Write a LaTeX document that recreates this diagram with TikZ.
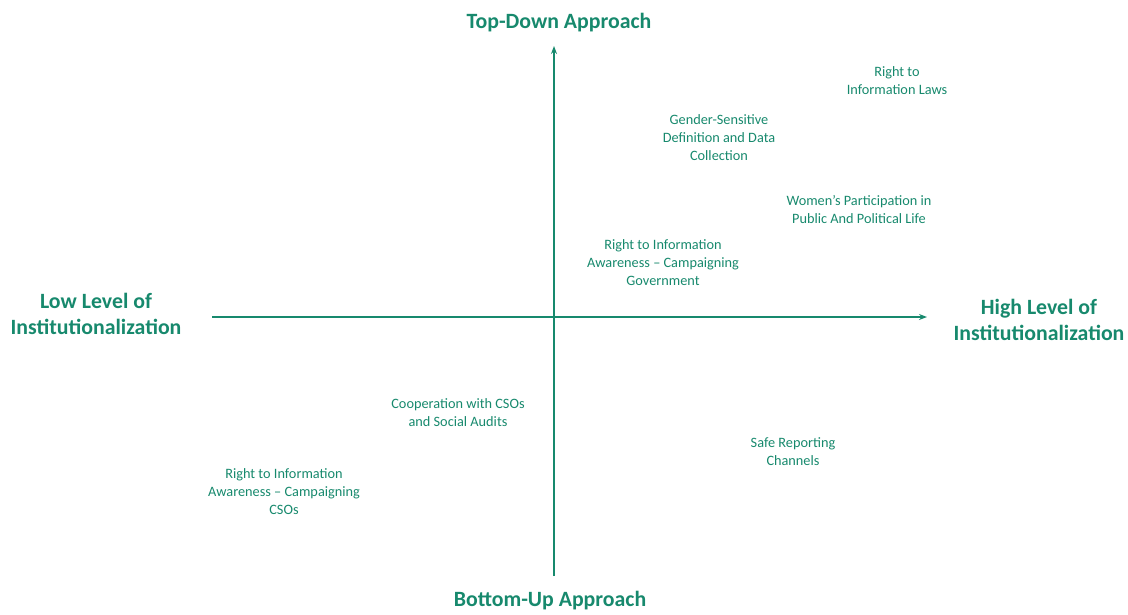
\documentclass[tikz,border=0pt]{standalone}
\usepackage{fontspec}
\setmainfont{Carlito}
\usetikzlibrary{arrows.meta}
\definecolor{teal1}{HTML}{17896D}
\tikzset{
  axis/.style={draw=teal1, line width=1.8pt},
  axlabel/.style={text=teal1, font=\fontsize{21.8}{26}\selectfont\bfseries, align=center},
  item/.style={text=teal1, font=\fontsize{14.3}{18}\selectfont, align=center}
}
\begin{document}
\begin{tikzpicture}[x=1pt,y=-1pt]
\useasboundingbox (0,0) rectangle (1128,614);
\coordinate (vbot) at (554,576);
\coordinate (vtop) at (554,46);
\coordinate (hleft) at (212,317);
\coordinate (hright) at (927,317);
\draw[axis,-{Stealth[length=8pt,width=6pt]}] (vbot) -- (vtop);
\draw[axis,-{Stealth[length=8pt,width=6pt]}] (hleft) -- (hright);
\node[axlabel] (top) at (559,23) {Top-Down Approach};
\node[axlabel] (bottom) at (550,601) {Bottom-Up Approach};
\node[axlabel] (low) at (96,314) {Low Level of\\Institutionalization};
\node[axlabel] (high) at (1039,320) {High Level of\\Institutionalization};
\node[item] (rtilaws) at (897,81) {Right to\\Information Laws};
\node[item] (gender) at (719,138) {Gender-Sensitive\\Definition and Data\\Collection};
\node[item] (women) at (859,210) {Women’s Participation in\\Public And Political Life};
\node[item] (rtigov) at (663,263) {Right to Information\\Awareness – Campaigning\\Government};
\node[item] (coop) at (458,413) {Cooperation with CSOs\\and Social Audits};
\node[item] (safe) at (793,452) {Safe Reporting\\Channels};
\node[item] (rticso) at (284,492) {Right to Information\\Awareness – Campaigning\\CSOs};
\end{tikzpicture}
\end{document}
